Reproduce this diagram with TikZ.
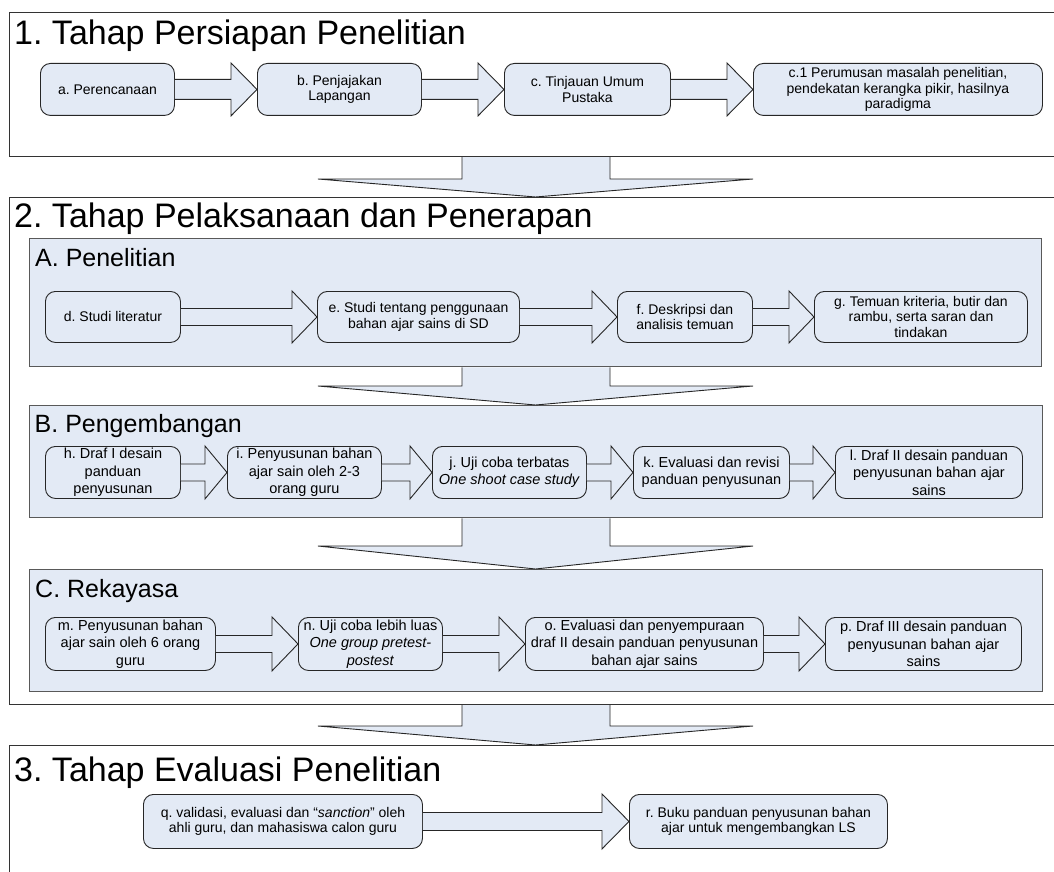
\documentclass[tikz,border=0pt]{standalone}
\usepackage{fontspec}
\setmainfont{Liberation Sans}
\usetikzlibrary{calc}
\definecolor{boxblue}{HTML}{E3EAF5}
\tikzset{
  sect/.style={draw=black!80, line width=1.1pt, fill=white},
  subsect/.style={draw=black!65, line width=1.4pt, fill=boxblue},
  pbox/.style={draw=black!85, line width=0.9pt, fill=boxblue, rounded corners=10pt, align=center, inner sep=0pt},
  smalltxt/.style={font=\fontsize{14}{15.5}\selectfont\frenchspacing},
  bigtxt/.style={font=\fontsize{14.5}{17.5}\selectfont\frenchspacing},
  fatarr/.style={draw=black!85, line width=0.9pt, fill=boxblue, line join=miter},
  ttl/.style={anchor=base west, inner sep=0pt, font=\fontsize{34}{40}\selectfont\frenchspacing},
  subttl/.style={anchor=base west, inner sep=0pt, font=\fontsize{25}{30}\selectfont\frenchspacing},
}
% region: style, name, x1, x2, y1, y2
\newcommand\regn[6]{\node[#1, minimum width={#4-#3}, minimum height={#6-#5}, inner sep=0pt, anchor=north west] (#2) at (#3,#5) {};}
% box: style, name, x1, x2, y1, y2, text
\newcommand\bx[7]{\node[pbox,#1, minimum width={#4-#3}, minimum height={#6-#5}, anchor=north west] (#2) at (#3,#5) {#7};}
% horizontal fat arrow: from, to, shaft half height, head length
\newcommand\harr[4]{\draw[fatarr] ($(#1.east)+(0,-#3)$) -- ($(#2.west)+(-#4,-#3)$) -- ($(#2.north west)+(-#4,0)$) -- (#2.west) -- ($(#2.south west)+(-#4,0)$) -- ($(#2.west)+(-#4,#3)$) -- ($(#1.east)+(0,#3)$);}
% vertical fat arrow: upper region, lower region, head height
\newcommand\varr[3]{\draw[fatarr] (462,0 |- #1.south) -- ($(462,0 |- #2.north)+(0,-#3)$) -- ($(318,0 |- #2.north)+(0,-#3)$) -- (535.5,0 |- #2.north) -- ($(753,0 |- #2.north)+(0,-#3)$) -- ($(610,0 |- #2.north)+(0,-#3)$) -- (610,0 |- #1.south);}
\begin{document}
\frenchspacing
\begin{tikzpicture}[x=1pt,y=-1pt]
\useasboundingbox (0,0) rectangle (1054,872);
\clip (0,0) rectangle (1054,872);
\fill[white] (0,0) rectangle (1054,872);

% sections
\regn{sect}{s1}{9}{1070}{12}{156}
\node[ttl] (t1) at (14,45) {1. Tahap Persiapan Penelitian};
\regn{sect}{s2}{9}{1070}{197}{704}
\node[ttl] (t2) at (14,227) {2. Tahap Pelaksanaan dan Penerapan};
\regn{subsect}{sa}{29}{1041}{238}{366}
\node[subttl] (ta) at (35,266) {A. Penelitian};
\regn{subsect}{sb}{29}{1042}{405}{517}
\node[subttl] (tb) at (34.5,432) {B. Pengembangan};
\regn{subsect}{sc}{29}{1042}{569}{691}
\node[subttl] (tc) at (35,597) {C. Rekayasa};
\regn{sect}{s3}{9}{1070}{745}{900}
\node[ttl] (t3) at (14,781) {3. Tahap Evaluasi Penelitian};

% down arrows
\varr{s1}{s2}{18}
\varr{sa}{sb}{19}
\varr{sb}{sc}{23}
\varr{s2}{s3}{19}

% section 1 row
\bx{smalltxt}{a}{40}{174}{63}{115}{a. Perencanaan}
\bx{smalltxt}{b}{257}{421}{63}{115}{b. Penjajakan\\Lapangan}
\bx{smalltxt}{c}{504}{670}{63}{115}{c. Tinjauan Umum\\Pustaka}
\bx{smalltxt}{c1}{753}{1042}{63}{115}{c.1 Perumusan masalah penelitian,\\pendekatan kerangka pikir, hasilnya\\paradigma}
\harr{a}{b}{10}{26}
\harr{b}{c}{10}{26}
\harr{c}{c1}{10}{26}

% A row
\bx{smalltxt}{d}{45}{180}{291}{342}{d. Studi literatur}
\bx{smalltxt}{e}{317}{519}{291}{342}{e. Studi tentang penggunaan\\bahan ajar sains di SD}
\bx{smalltxt}{f}{617}{752}{291}{342}{f. Deskripsi dan\\analisis temuan}
\bx{smalltxt}{g}{814}{1027}{291}{342}{g. Temuan kriteria, butir dan\\rambu, serta saran dan\\tindakan}
\harr{d}{e}{8.5}{25}
\harr{e}{f}{8.5}{25}
\harr{f}{g}{8.5}{25}

% B row
\bx{bigtxt}{h}{45}{180}{446}{498}{h. Draf I desain\\panduan\\penyusunan}
\bx{bigtxt}{i}{227}{381}{446}{498}{i. Penyusunan bahan\\ajar sain oleh 2-3\\orang guru}
\bx{bigtxt}{j}{432}{586}{446}{498}{j. Uji coba terbatas\\\textit{One shoot case study}}
\bx{bigtxt}{k}{633}{789}{446}{498}{k. Evaluasi dan revisi\\panduan penyusunan}
\bx{bigtxt}{l}{835}{1022}{446}{498}{l. Draf II desain panduan\\penyusunan bahan ajar\\sains}
\harr{h}{i}{8.5}{22}
\harr{i}{j}{8.5}{22}
\harr{j}{k}{8.5}{22}
\harr{k}{l}{8.5}{22}

% C row
\bx{bigtxt}{m}{45}{215}{617}{670}{m. Penyusunan bahan\\ajar sain oleh 6 orang\\guru}
\bx{bigtxt}{n}{298}{442}{617}{670}{n. Uji coba lebih luas\\\textit{One group pretest-}\\\textit{postest}}
\bx{bigtxt}{o}{525}{763}{617}{670}{o. Evaluasi dan penyempuraan\\draf II desain panduan penyusunan\\bahan ajar sains}
\bx{bigtxt}{p}{825}{1021}{617}{670}{p. Draf III desain panduan\\penyusunan bahan ajar\\sains}
\harr{m}{n}{8.5}{26}
\harr{n}{o}{8.5}{26}
\harr{o}{p}{8.5}{26}

% section 3 row
\bx{smalltxt}{q}{143}{422}{794}{848}{q. validasi, evaluasi dan “\textit{sanction}” oleh\\ahli guru, dan mahasiswa calon guru}
\bx{smalltxt}{r}{629}{887}{794}{848}{r. Buku panduan penyusunan bahan\\ajar untuk mengembangkan LS}
\harr{q}{r}{9}{27}
\end{tikzpicture}
\end{document}
